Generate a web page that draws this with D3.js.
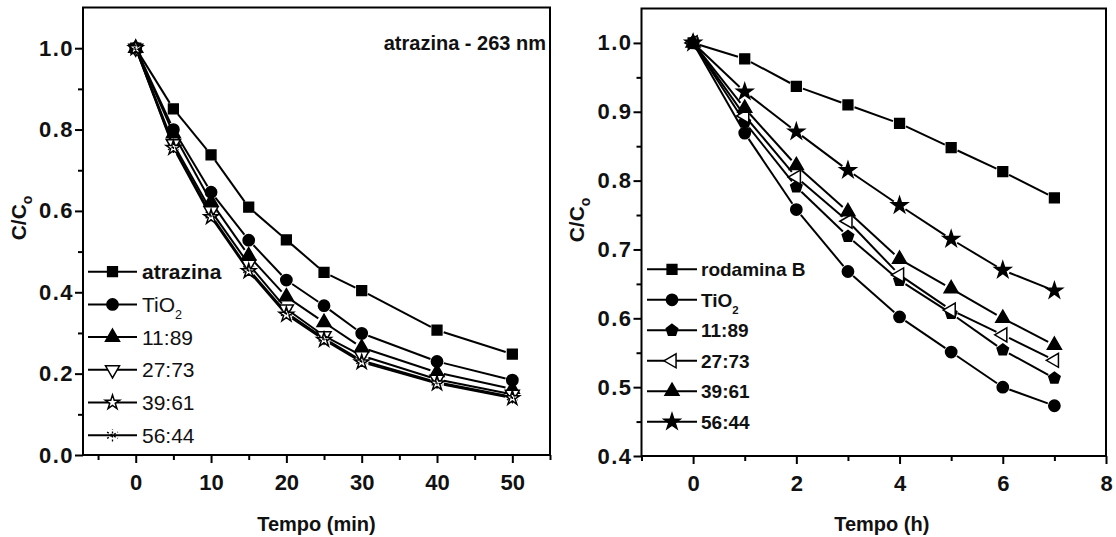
<!DOCTYPE html>
<html lang="en">
<head>
<meta charset="UTF-8">
<title>Degradação fotocatalítica</title>
<script src="https://d3js.org/d3.v7.min.js"></script>
<style>
  body { margin: 0; background: #fff; }
  svg { font-family: "Liberation Sans", Arial, sans-serif; }
  .axis-title { font-size: 20px; font-weight: bold; fill: #111; }
  .leg { font-size: 20px; fill: #111; }
</style>
</head>
<body>
<svg id="chart" width="1116" height="537"></svg>
<script>
// left panel: atrazina (time in min)
const tMin = [0, 5, 10, 15, 20, 25, 30, 40, 50];
const atrazina = [1.0, 0.851, 0.738, 0.609, 0.529, 0.449, 0.404, 0.307, 0.248];
const tio2A    = [1.0, 0.800, 0.646, 0.528, 0.430, 0.367, 0.299, 0.230, 0.184];
const a1189    = [1.0, 0.790, 0.622, 0.490, 0.389, 0.326, 0.264, 0.203, 0.162];
const a2773    = [1.0, 0.765, 0.600, 0.469, 0.359, 0.293, 0.244, 0.186, 0.149];
const a3961    = [1.0, 0.755, 0.585, 0.452, 0.345, 0.283, 0.228, 0.176, 0.140];
const a5644    = [1.0, 0.758, 0.590, 0.456, 0.350, 0.287, 0.232, 0.179, 0.143];
const leftNames = ["atrazina", "TiO2", "11:89", "27:73", "39:61", "56:44"];

// right panel: rodamina B (time in h)
const tH = [0, 1, 2, 3, 4, 5, 6, 7];
const rodB  = [1.0, 0.977, 0.937, 0.910, 0.883, 0.848, 0.813, 0.775];
const tio2R = [1.0, 0.869, 0.758, 0.668, 0.602, 0.551, 0.500, 0.473];
const r1189 = [1.0, 0.885, 0.791, 0.719, 0.655, 0.607, 0.554, 0.513];
const r2773 = [1.0, 0.894, 0.805, 0.741, 0.663, 0.612, 0.576, 0.539];
const r3961 = [1.0, 0.905, 0.822, 0.755, 0.686, 0.643, 0.600, 0.561];
const r5644 = [1.0, 0.929, 0.871, 0.815, 0.764, 0.715, 0.670, 0.640];
const rightNames = ["rodamina B", "TiO2", "11:89", "27:73", "39:61", "56:44"];

const leftXTicks = [0, 10, 20, 30, 40, 50];
const leftYTicks = [0.0, 0.2, 0.4, 0.6, 0.8, 1.0];
const rightXTicks = [0, 2, 4, 6, 8];
const rightYTicks = [0.4, 0.5, 0.6, 0.7, 0.8, 0.9, 1.0];

const svg = d3.select("#chart");

// marker shapes
const pentagon = (r) => {
  const pts = d3.range(5).map(i => {
    const a = -Math.PI / 2 + i * 2 * Math.PI / 5;
    return [r * Math.cos(a), r * Math.sin(a)];
  });
  return "M" + pts.join("L") + "Z";
};
const sym = (type, size) => d3.symbol().type(type).size(size)();
const markers = {
  square:   { d: sym(d3.symbolSquare, 95), fill: "#000" },
  circle:   { d: sym(d3.symbolCircle, 100), fill: "#000" },
  triUp:    { d: sym(d3.symbolTriangle, 85), fill: "#000" },
  triDown:  { d: sym(d3.symbolTriangle, 85), fill: "#fff", rot: 180 },
  triLeft:  { d: sym(d3.symbolTriangle, 85), fill: "#fff", rot: -90 },
  starOpen: { d: sym(d3.symbolStar, 65), fill: "#fff" },
  star:     { d: sym(d3.symbolStar, 80), fill: "#000" },
  pent:     { d: pentagon(6), fill: "#000" },
  aster:    { d: sym(d3.symbolAsterisk || d3.symbolCross, 110), fill: "none", dash: "2,2", sw: 1.3 }
};

function drawMarker(g, m, x, y) {
  g.append("path")
    .attr("d", m.d)
    .attr("transform", `translate(${x},${y})` + (m.rot ? ` rotate(${m.rot})` : ""))
    .attr("fill", m.fill)
    .attr("stroke", "#000")
    .attr("stroke-width", m.sw || 1.5)
    .attr("stroke-dasharray", m.dash || null);
}

function tickText(sel) {
  sel.style("font-family", "'Liberation Sans', Arial, sans-serif")
    .style("font-size", "22px").style("font-weight", "bold").attr("fill", "#111");
}

function panel(cfg) {
  const x = d3.scaleLinear().domain(cfg.xDomain).range(cfg.xRange);
  const y = d3.scaleLinear().domain(cfg.yDomain).range(cfg.yRange);
  const g = svg.append("g");
  const [x0, x1] = cfg.xRange, [y0, y1] = cfg.yRange;

  // frame
  g.append("rect")
    .attr("x", x0).attr("y", y1)
    .attr("width", x1 - x0).attr("height", y0 - y1)
    .attr("fill", "none").attr("stroke", "#000").attr("stroke-width", 2);

  // x axis
  const ax = g.append("g").attr("transform", `translate(0,${y0})`)
    .call(d3.axisBottom(x).tickValues(cfg.xTicks).tickSize(8).tickFormat(d3.format("d")));
  ax.select(".domain").remove();
  ax.selectAll("line").attr("stroke-width", 2);
  ax.selectAll("text").call(tickText).attr("y", 19);
  const axm = g.append("g").attr("transform", `translate(0,${y0})`)
    .call(d3.axisBottom(x).tickValues(cfg.xMinor).tickSize(5).tickFormat(""));
  axm.select(".domain").remove();
  axm.selectAll("line").attr("stroke-width", 2);

  // y axis
  const ay = g.append("g").attr("transform", `translate(${x0},0)`)
    .call(d3.axisLeft(y).tickValues(cfg.yTicks).tickSize(8).tickFormat(d3.format(".1f")));
  ay.select(".domain").remove();
  ay.selectAll("line").attr("stroke-width", 2);
  ay.selectAll("text").call(tickText).style("letter-spacing", "1.5px").attr("x", -9);
  const aym = g.append("g").attr("transform", `translate(${x0},0)`)
    .call(d3.axisLeft(y).tickValues(cfg.yMinor).tickSize(5).tickFormat(""));
  aym.select(".domain").remove();
  aym.selectAll("line").attr("stroke-width", 2);

  // titles
  g.append("text").attr("class", "axis-title")
    .attr("x", (x0 + x1) / 2 + cfg.xTitleShift).attr("y", 531)
    .attr("text-anchor", "middle").text(cfg.xTitle);
  const yt = g.append("text").attr("class", "axis-title")
    .attr("transform", `translate(${cfg.yTitleX},${cfg.yTitleY}) rotate(-90)`)
    .attr("text-anchor", "middle")
    .style("font-size", "21px");
  yt.append("tspan").text("C/C");
  yt.append("tspan").attr("font-size", 14).attr("dy", 6).text("o");

  // series: segments with small gaps at markers, then markers
  const gap = 7;
  cfg.series.forEach(s => {
    const pts = cfg.t.map((t, i) => [x(t), y(s.v[i])]);
    for (let i = 0; i < pts.length - 1; i++) {
      const [ax0, ay0] = pts[i], [ax1, ay1] = pts[i + 1];
      const len = Math.hypot(ax1 - ax0, ay1 - ay0);
      if (len <= 2 * gap) continue;
      const ux = (ax1 - ax0) / len, uy = (ay1 - ay0) / len;
      g.append("line")
        .attr("x1", ax0 + ux * gap).attr("y1", ay0 + uy * gap)
        .attr("x2", ax1 - ux * gap).attr("y2", ay1 - uy * gap)
        .attr("stroke", "#000").attr("stroke-width", 2);
    }
  });
  cfg.series.forEach(s => {
    cfg.t.forEach((t, i) => drawMarker(g, markers[s.m], x(t), y(s.v[i])));
  });

  // legend
  const L = cfg.legend;
  cfg.series.forEach((s, i) => {
    const ly = L.y + i * L.dy;
    g.append("line").attr("x1", L.x0).attr("x2", L.x1)
      .attr("y1", ly).attr("y2", ly).attr("stroke", "#000").attr("stroke-width", 2);
    drawMarker(g, markers[s.m], (L.x0 + L.x1) / 2, ly);
    const tx = g.append("text").attr("class", "leg")
      .attr("x", L.tx).attr("y", ly).attr("dy", "0.36em")
      .style("font-size", L.fs + "px")
      .style("font-weight", i === 0 || L.allBold ? "bold" : "normal");
    if (s.name === "TiO2") {
      tx.append("tspan").text("TiO");
      tx.append("tspan").attr("font-size", L.fs * 0.6).attr("dy", 7).text("2");
    } else {
      tx.text(s.name);
    }
  });
  return g;
}

const leftSeries = [atrazina, tio2A, a1189, a2773, a3961, a5644];
const leftMarks = ["square", "circle", "triUp", "triDown", "starOpen", "aster"];
const gl = panel({
  xDomain: [-7, 55], xRange: [83, 550],
  yDomain: [0, 1.1], yRange: [455, 7.5],
  xTicks: leftXTicks, xMinor: [-5, 5, 15, 25, 35, 45, 55],
  yTicks: leftYTicks, yMinor: [0.1, 0.3, 0.5, 0.7, 0.9],
  t: tMin,
  series: leftSeries.map((v, i) => ({ v, m: leftMarks[i], name: leftNames[i] })),
  xTitle: "Tempo (min)", xTitleShift: 0,
  yTitleX: 26, yTitleY: 218,
  legend: { x0: 88, x1: 137, tx: 142, y: 271.7, dy: 32.7, fs: 21, allBold: false }
});
gl.append("text").attr("x", 546).attr("y", 50)
  .attr("text-anchor", "end")
  .style("font-size", "20px").style("font-weight", "bold").attr("fill", "#111")
  .text("atrazina  - 263 nm");

const rightSeries = [rodB, tio2R, r1189, r2773, r3961, r5644];
const rightMarks = ["square", "circle", "pent", "triLeft", "triUp", "star"];
panel({
  xDomain: [-1, 8], xRange: [641.5, 1106],
  yDomain: [0.4, 1.05], yRange: [456, 8.5],
  xTicks: rightXTicks, xMinor: [-1, 1, 3, 5, 7],
  yTicks: rightYTicks, yMinor: [0.45, 0.55, 0.65, 0.75, 0.85, 0.95],
  t: tH,
  series: rightSeries.map((v, i) => ({ v, m: rightMarks[i], name: rightNames[i] })),
  xTitle: "Tempo (h)", xTitleShift: 8,
  yTitleX: 584, yTitleY: 220,
  legend: { x0: 647, x1: 697, tx: 701, y: 269.3, dy: 30.5, fs: 19, allBold: true }
});
</script>
</body>
</html>
